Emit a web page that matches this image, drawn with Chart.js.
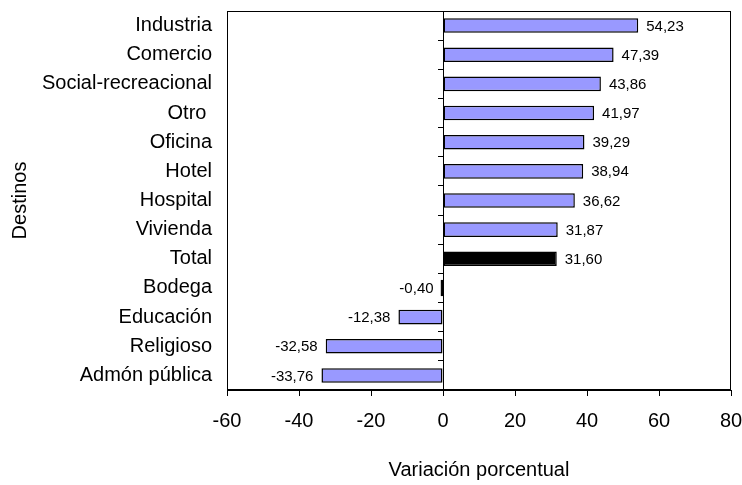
<!DOCTYPE html>
<html lang="es">
<head>
<meta charset="utf-8">
<title>Variación porcentual por destino</title>
<script src="https://cdn.jsdelivr.net/npm/chart.js@4/dist/chart.umd.min.js"></script>
<style>
  html, body { margin: 0; padding: 0; background: #fff; }
  #chart-wrap { width: 742px; height: 485px; }
</style>
</head>
<body>
<div id="chart-wrap"><canvas id="destinos-chart" width="742" height="485"></canvas></div>
<script>
// Datos
const categories = ['Industria', 'Comercio', 'Social-recreacional', 'Otro ', 'Oficina', 'Hotel', 'Hospital', 'Vivienda', 'Total', 'Bodega', 'Educación', 'Religioso', 'Admón pública'];
const values = [54.23, 47.39, 43.86, 41.97, 39.29, 38.94, 36.62, 31.87, 31.60, -0.40, -12.38, -32.58, -33.76];
const xMin = -60;
const xMax = 80;
const xStep = 20;
const totalLabel = 'Total';

class DestinosChart {
  static init() {
    Chart.defaults.font.family = '"Liberation Sans", Arial, sans-serif';
    Chart.defaults.color = '#000';
    this.buildChart();
  }

  static formatValue(v) {
    return v.toFixed(2).replace('.', ',');
  }

  static buildChart() {
    // Marco alrededor del área de trazado
    const framePlugin = {
      id: 'frame',
      afterDraw(chart) {
        const { ctx, chartArea: a } = chart;
        ctx.save();
        ctx.strokeStyle = '#000';
        ctx.lineWidth = 1;
        ctx.strokeRect(Math.round(a.left) + 0.5, Math.round(a.top) + 0.5,
          Math.round(a.right - a.left) - 1, Math.round(a.bottom - a.top) - 1);
        ctx.restore();
      }
    };

    // Etiquetas de valor junto a cada barra
    const valueLabels = {
      id: 'valueLabels',
      afterDatasetsDraw(chart) {
        const { ctx } = chart;
        const meta = chart.getDatasetMeta(0);
        ctx.save();
        ctx.font = '15px "Liberation Sans", Arial, sans-serif';
        ctx.fillStyle = '#000';
        ctx.textBaseline = 'middle';
        meta.data.forEach((bar, i) => {
          const v = values[i];
          if (v >= 0) {
            ctx.textAlign = 'left';
            ctx.fillText(DestinosChart.formatValue(v), bar.x + 8, bar.y + 1);
          } else {
            ctx.textAlign = 'right';
            ctx.fillText(DestinosChart.formatValue(v), bar.x - 8, bar.y + 1);
          }
        });
        ctx.restore();
      }
    };

    // barras muy cortas: solo se ve el borde negro
    const isTiny = i => Math.abs(values[i]) < 1;

    this.chart = new Chart(document.getElementById('destinos-chart'), {
      type: 'bar',
      data: {
        labels: categories,
        datasets: [{
          data: values,
          backgroundColor: categories.map((c, i) => (c === totalLabel || isTiny(i)) ? '#000000' : '#9999ff'),
          borderColor: '#000',
          borderWidth: 1.5,
          borderSkipped: false,
          inflateAmount: ctx => isTiny(ctx.dataIndex) ? 1 : 'auto',
          barPercentage: 0.5,
          categoryPercentage: 1
        }]
      },
      options: {
        indexAxis: 'y',
        responsive: false,
        animation: false,
        events: [],
        layout: { padding: { left: 0, top: 11, right: 11, bottom: 0 } },
        plugins: {
          legend: { display: false },
          tooltip: { enabled: false }
        },
        scales: {
          x: {
            type: 'linear',
            min: xMin,
            max: xMax,
            ticks: { stepSize: xStep, font: { size: 20 }, padding: 13, color: '#000' },
            grid: { drawOnChartArea: false, tickLength: 6, color: '#000' },
            border: { display: true, color: '#000' },
            title: { display: true, text: 'Variación porcentual', font: { size: 20 }, padding: { top: 0, bottom: 3 }, color: '#000' },
            afterFit: scale => {
              scale.height = 95;
              scale.paddingLeft = 0;
              scale.paddingRight = 0;
            }
          },
          y: {
            type: 'category',
            offset: true,
            ticks: { font: { size: 20 }, padding: 15, color: '#000' },
            grid: { display: false, drawTicks: false },
            border: { display: true, color: '#000' },
            title: { display: true, text: 'Destinos', font: { size: 20 }, padding: { top: 8, bottom: 0 }, color: '#000' },
            afterFit: scale => {
              scale.width = 227;
              scale.paddingTop = 0;
              scale.paddingBottom = 0;
            }
          },
          // eje vertical en el cero con marcas entre categorías
          y2: {
            type: 'category',
            position: { x: 0 },
            offset: true,
            ticks: { display: false },
            grid: { drawOnChartArea: false, offset: true, tickLength: 5, color: '#000' },
            border: { display: true, color: '#000' }
          }
        }
      },
      plugins: [framePlugin, valueLabels]
    });
  }
}

document.addEventListener('DOMContentLoaded', () => DestinosChart.init());
</script>
</body>
</html>
